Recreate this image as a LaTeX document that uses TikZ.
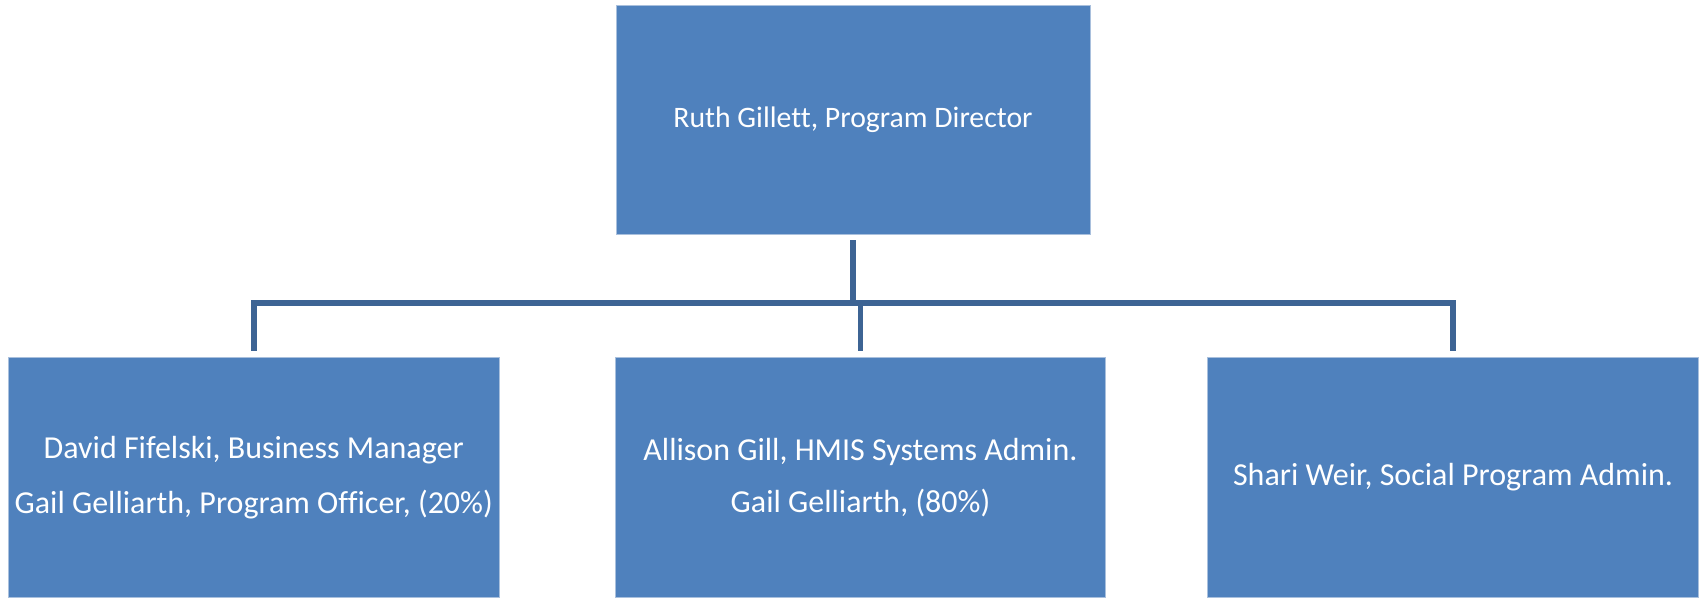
\documentclass[tikz,border=0pt]{standalone}
\usepackage{fontspec}
\setmainfont{Carlito}[Ligatures=NoCommon]
\definecolor{boxblue}{HTML}{4F81BD}
\definecolor{edgeblue}{HTML}{A9C0DD}
\definecolor{lineblue}{HTML}{3D6494}

\begin{document}
\begin{tikzpicture}[
    x=0.75pt,y=-0.75pt,
    any/.style={draw=edgeblue,line width=0.6pt,fill=boxblue,text=white,align=center,inner sep=0pt},
    boss/.style={any,minimum width=355.5pt,minimum height=171.75pt,font=\fontsize{22.3}{26}\selectfont},
    staff/.style={any,minimum width=368pt,minimum height=180pt,font=\fontsize{24}{28.8}\selectfont},
    link/.style={draw=lineblue,line width=4.3pt}
]
\useasboundingbox (0,0) rectangle (1700,597);

\node[boss] (gillett) at (853,119.5) {Ruth Gillett, Program Director};

\node[staff] (fifelski) at (253.75,477.5) {David Fifelski, Business Manager\\[13pt] Gail Gelliarth, Program Officer, (20\%)};
\node[staff] (gill) at (860.5,477.5) {Allison Gill, HMIS Systems Admin.\\[10pt] Gail Gelliarth, (80\%)};
\node[staff] (weir) at (1453,477.5) {Shari Weir, Social Program Admin.};

\coordinate (bar) at (853,303);
\draw[link] ([yshift=-4.5pt]gillett.south) -- (bar);
\draw[link] (bar) -| ([yshift=4.5pt]fifelski.north);
\draw[link] (bar) -| ([yshift=4.5pt]weir.north);
\draw[link] (gill.north |- bar) -- ([yshift=4.5pt]gill.north);
\end{tikzpicture}
\end{document}
